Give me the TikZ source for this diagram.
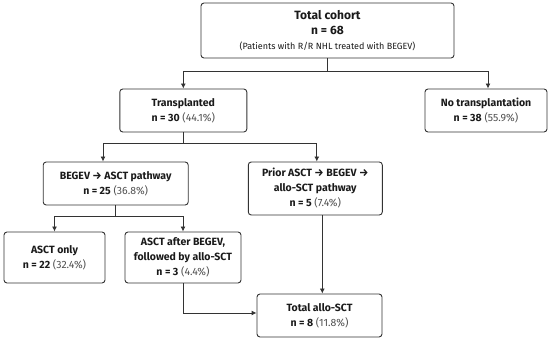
\documentclass[tikz,border=0pt]{standalone}
\usepackage{fontspec}
\setmainfont{Fira Sans}
\usepackage{xcolor}
\usepackage{tikz}
\usetikzlibrary{arrows.meta, positioning, calc}
\definecolor{flowline}{HTML}{333333}
\definecolor{flowtext}{HTML}{1A1A1A}
\definecolor{pctgray}{HTML}{505050}
\tikzset{
  box/.style={rectangle, rounded corners=3pt, draw=flowline, line width=0.9pt,
    fill=white, align=center, text=flowtext, inner sep=2pt,
    font=\fontsize{10.5}{15}\selectfont},
  ar/.style={-{Latex[length=5pt, width=5pt]}, line width=0.9pt, flowline},
  ln/.style={line width=0.9pt, flowline},
}
\newcommand{\pct}[1]{{\color{pctgray}(#1)}}

\begin{document}
\begin{tikzpicture}[x=1pt, y=-1pt]
  \useasboundingbox (0,0) rectangle (550,344);

  \node[box, minimum width=253pt, minimum height=55pt,
        font=\fontsize{12}{15}\selectfont] (cohort) at (327.5,30.5)
    {\textbf{Total cohort}\\
     \textbf{n = 68}\\
     {\fontsize{9}{13}\selectfont (Patients with R/R NHL treated with BEGEV)}};
  \node[box, minimum width=127pt, minimum height=43pt] (trans) at (183.3,110.5)
    {\textbf{Transplanted}\\
     \textbf{n = 30} \pct{44.1\%}};
  \node[box, minimum width=122pt, minimum height=43pt] (notrans) at (486,110.5)
    {\textbf{No transplantation}\\
     \textbf{n = 38} \pct{55.9\%}};
  \node[box, minimum width=145pt, minimum height=43pt] (begev) at (115.7,183.5)
    {\textbf{BEGEV → ASCT pathway}\\
     \textbf{n = 25} \pct{36.8\%}};
  \node[box, minimum width=134pt, minimum height=53pt] (prior) at (315.3,188.5)
    {\textbf{Prior ASCT → BEGEV →}\\
     \textbf{allo-SCT pathway}\\
     \textbf{n = 5} \pct{7.4\%}};
  \node[box, minimum width=101pt, minimum height=51pt] (asctonly) at (54.5,257.5)
    {\textbf{ASCT only}\\
     \textbf{n = 22} \pct{32.4\%}};
  \node[box, minimum width=116pt, minimum height=51pt] (asctallo) at (183,257.5)
    {\textbf{ASCT after BEGEV,}\\
     \textbf{followed by allo-SCT}\\
     \textbf{n = 3} \pct{4.4\%}};
  \node[box, minimum width=125pt, minimum height=43pt] (totallo) at (319.5,315.5)
    {\textbf{Total allo-SCT}\\
     \textbf{n = 8} \pct{11.8\%}};

  % cohort split
  \draw[ln] (cohort.south) -- ++(0,12.7) coordinate (split1);
  \draw[ar] (split1) -| (trans.north);
  \draw[ar] (split1) -| ([xshift=2pt]notrans.north);
  % transplanted split
  \draw[ln] (trans.south) -- ++(0,11.3) coordinate (split2);
  \draw[ar] (split2) -| ([xshift=-12.7pt]begev.north);
  \draw[ar] (split2) -| ([xshift=1.5pt]prior.north);
  % BEGEV -> ASCT split
  \draw[ln] (begev.south) -- ++(0,11) coordinate (split3);
  \draw[ar] (split3) -| (asctonly.north);
  \draw[ar] (split3) -| (asctallo.north);
  % into total allo-SCT
  \draw[ar] ([xshift=7pt]prior.south) -- ([xshift=7pt]prior.south |- totallo.north);
  \draw[ar] (asctallo.south) |- ([yshift=2.5pt]totallo.west);
\end{tikzpicture}
\end{document}
